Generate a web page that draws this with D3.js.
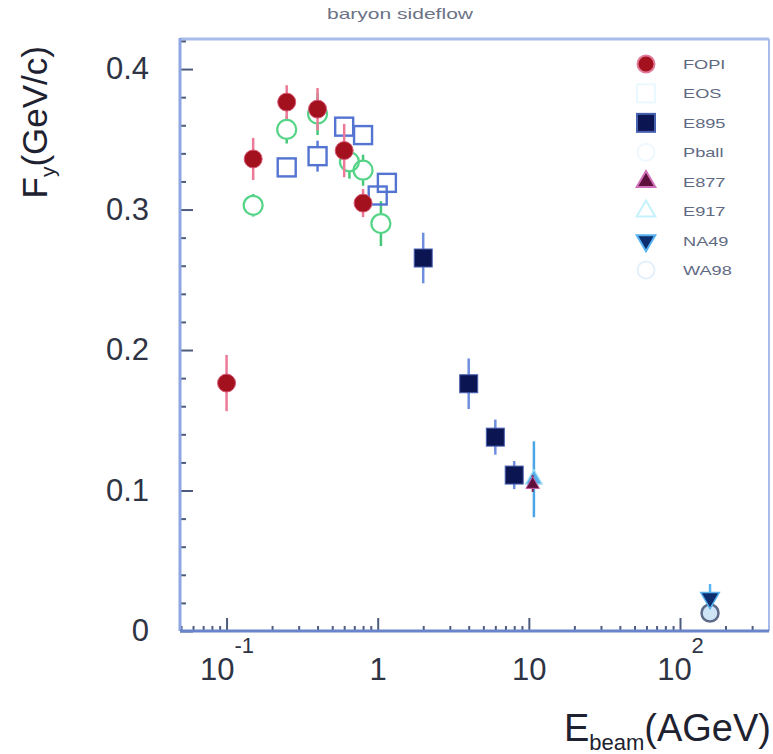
<!DOCTYPE html>
<html>
<head>
<meta charset="utf-8">
<script src="https://cdn.jsdelivr.net/npm/d3@7/dist/d3.min.js"></script>
<style>
  html, body { margin: 0; padding: 0; background: #fff; }
  svg { display: block; font-family: "Liberation Sans", Arial, Helvetica, sans-serif; }
</style>
</head>
<body>
<svg id="chart" width="773" height="754"></svg>
<script>
// ---- data: directed sideflow F_y versus beam energy ----
const fopiE   = [0.1, 0.15, 0.25, 0.4, 0.6, 0.8];
const fopiF   = [0.1765, 0.336, 0.3765, 0.3715, 0.342, 0.3046];
const fopiErr = [0.020, 0.015, 0.012, 0.015, 0.019, 0.010];

const eosE    = [0.25, 0.4, 0.6, 0.8, 1.0, 1.15];
const eosF    = [0.330, 0.338, 0.359, 0.353, 0.310, 0.319];
const eosErr  = [0.006, 0.011, 0.006, 0.006, 0.006, 0.006];

const pballE   = [0.15, 0.25, 0.4, 0.65, 0.8, 1.05];
const pballF   = [0.303, 0.357, 0.368, 0.334, 0.328, 0.290];
const pballErr = [0.008, 0.010, 0.015, 0.012, 0.011, 0.016];

const e895E   = [2, 4, 6, 8];
const e895F   = [0.2655, 0.176, 0.138, 0.111];
const e895Err = [0.018, 0.018, 0.0125, 0.010];

const e877E = [10.6], e877F = [0.105], e877Err = [0.006];
const e917E = [10.8], e917F = [0.108], e917Err = [0.027];
const na49E = [158],  na49F = [0.0235], na49Err = [0.010];
const wa98E = [158],  wa98F = [0.0128], wa98Err = [0.004];

const legendLabels = ["FOPI", "EOS", "E895", "Pball", "E877", "E917", "NA49", "WA98"];
const xTickValues = [0.1, 1, 10, 100];
const yTickValues = [0, 0.1, 0.2, 0.3, 0.4];

// ---- layout ----
const svg = d3.select("#chart");
const pLeft = 180, pRight = 769, pTop = 39, pBottom = 631;

const x = d3.scaleLog().domain([0.0492, 388]).range([pLeft, pRight]);
const y = d3.scaleLinear().domain([0, 0.4214]).range([pBottom, pTop]);

// title
svg.append("text")
  .attr("x", 400).attr("y", 19)
  .attr("text-anchor", "middle")
  .attr("font-size", 15)
  .attr("textLength", 146).attr("lengthAdjust", "spacingAndGlyphs")
  .attr("fill", "#6c7386")
  .text("baryon sideflow");

// frame (top and right edges)
svg.append("line").attr("x1", pLeft).attr("x2", pRight).attr("y1", pTop).attr("y2", pTop)
  .attr("stroke", "#a9bbea").attr("stroke-width", 3);
svg.append("line").attr("x1", pRight).attr("x2", pRight).attr("y1", pTop).attr("y2", pBottom)
  .attr("stroke", "#a9bbea").attr("stroke-width", 2);

// minor tick values
const yMinor = d3.range(0, 0.4201, 0.02).filter(v => Math.abs(v * 10 - Math.round(v * 10)) > 1e-6);
const xMinor = [];
[0.01, 0.1, 1, 10, 100].forEach(d => { for (let k = 2; k <= 9; k++) { const v = d * k; if (v > 0.0492 && v < 388) xMinor.push(v); } });

function tickStyle(g, color) {
  g.select(".domain").remove();
  g.selectAll(".tick line").attr("stroke", color).attr("stroke-width", 2);
}

// y axis: ticks point into the plot
svg.append("g").attr("transform", `translate(${pLeft},0)`)
  .call(d3.axisRight(y).tickValues(yMinor).tickSize(6).tickFormat(""))
  .call(g => tickStyle(g, "#4d5b7c"));
svg.append("g").attr("transform", `translate(${pLeft},0)`)
  .call(d3.axisRight(y).tickValues(yTickValues).tickSize(13).tickFormat(""))
  .call(g => tickStyle(g, "#4d5b7c"));
svg.append("g").attr("transform", `translate(${pLeft},0)`)
  .call(d3.axisLeft(y).tickValues(yTickValues).tickSize(0).tickPadding(31)
    .tickFormat(d => d === 0 ? "0" : d3.format(".1f")(d)))
  .call(g => {
    g.select(".domain").remove();
    g.selectAll("text").attr("font-size", 31).attr("fill", "#2e3444")
      .attr("font-family", "'Liberation Sans', Arial, sans-serif");
  });

// x axis: ticks point up into the plot
svg.append("g").attr("transform", `translate(0,${pBottom})`)
  .call(d3.axisTop(x).tickValues(xMinor).tickSize(5).tickFormat(""))
  .call(g => tickStyle(g, "#4d5b7c"));
svg.append("g").attr("transform", `translate(0,${pBottom})`)
  .call(d3.axisTop(x).tickValues(xTickValues).tickSize(13).tickFormat(""))
  .call(g => tickStyle(g, "#4d5b7c"));
svg.append("g").attr("transform", `translate(0,${pBottom})`)
  .call(d3.axisBottom(x).tickValues(xTickValues).tickSize(0).tickPadding(20).tickFormat(""))
  .call(g => {
    g.select(".domain").remove();
    g.selectAll(".tick text").each(function(d) {
      const t = d3.select(this)
        .attr("font-size", 31).attr("fill", "#2e3444").attr("dy", null).attr("y", 49)
        .attr("font-family", "'Liberation Sans', Arial, sans-serif");
      const e = Math.round(Math.log10(d));
      if (e === 0) t.text("1");
      else if (e === 1) t.text("10");
      else {
        t.append("tspan").text("10");
        t.append("tspan").attr("font-size", 22).attr("dy", -27).text(String(e));
      }
    });
  });

// axis lines
svg.append("line").attr("x1", pLeft).attr("x2", pLeft).attr("y1", pTop - 1).attr("y2", pBottom)
  .attr("stroke", "#8ea6e2").attr("stroke-width", 3);
svg.append("line").attr("x1", pLeft).attr("x2", pRight).attr("y1", pBottom).attr("y2", pBottom)
  .attr("stroke", "#6a84cc").attr("stroke-width", 3);

// axis titles
const xt = svg.append("text")
  .attr("x", 771).attr("y", 741).attr("text-anchor", "end")
  .attr("font-size", 38).attr("fill", "#1e2230");
xt.append("tspan").text("E");
xt.append("tspan").attr("font-size", 22).attr("dy", 9).text("beam");
xt.append("tspan").attr("dy", -9).text("(AGeV)");

const yt = svg.append("text")
  .attr("transform", "translate(47,46) rotate(-90)")
  .attr("text-anchor", "end")
  .attr("font-size", 35).attr("fill", "#1e2230");
yt.append("tspan").text("F");
yt.append("tspan").attr("font-size", 21).attr("dy", 8).text("y");
yt.append("tspan").attr("dy", -8).text("(GeV/c)");

// ---- marks ----
const plot = svg.append("g");

function series(E, F, Err) { return E.map((e, i) => ({ e, f: F[i], err: Err[i] })); }

// vertical error bars; `gap` keeps the bar out of the marker body (for open markers)
function errorBars(data, color, width, gap = 0) {
  const segs = [];
  data.forEach(d => {
    const cx = x(d.e), cy = y(d.f);
    const yTop = y(d.f + d.err), yBot = y(d.f - d.err);
    if (gap > 0) {
      if (yTop < cy - gap) segs.push({ cx, y1: yTop, y2: cy - gap });
      if (yBot > cy + gap) segs.push({ cx, y1: cy + gap, y2: yBot });
    } else {
      segs.push({ cx, y1: yTop, y2: yBot });
    }
  });
  plot.append("g").selectAll("line").data(segs).join("line")
    .attr("x1", s => s.cx).attr("x2", s => s.cx)
    .attr("y1", s => s.y1).attr("y2", s => s.y2)
    .attr("stroke", color).attr("stroke-width", width);
}

const triUp = d3.symbol().type(d3.symbolTriangle).size(150);

const fopi  = series(fopiE, fopiF, fopiErr);
const eos   = series(eosE, eosF, eosErr);
const pball = series(pballE, pballF, pballErr);
const e895  = series(e895E, e895F, e895Err);
const e877  = series(e877E, e877F, e877Err);
const e917  = series(e917E, e917F, e917Err);
const na49  = series(na49E, na49F, na49Err);
const wa98  = series(wa98E, wa98F, wa98Err);

// Plastic Ball: open green circles
errorBars(pball, "#46c878", 2.5, 10);
plot.append("g").selectAll("circle").data(pball).join("circle")
  .attr("cx", d => x(d.e)).attr("cy", d => y(d.f)).attr("r", 9.5)
  .attr("fill", "none").attr("stroke", "#55d487").attr("stroke-width", 2.2);

// EOS: open blue squares
errorBars(eos, "#5c7ed8", 2.5, 9);
plot.append("g").selectAll("rect").data(eos).join("rect")
  .attr("x", d => x(d.e) - 9).attr("y", d => y(d.f) - 9).attr("width", 18).attr("height", 18)
  .attr("fill", "none").attr("stroke", "#5474d2").attr("stroke-width", 2.4);

// FOPI: filled red circles
errorBars(fopi, "#ec7a98", 2.5);
plot.append("g").selectAll("circle").data(fopi).join("circle")
  .attr("cx", d => x(d.e)).attr("cy", d => y(d.f)).attr("r", 9)
  .attr("fill", "#a3111f").attr("stroke", "#d85a76").attr("stroke-width", 1);

// E895: filled navy squares
errorBars(e895, "#6f8ede", 2.5);
plot.append("g").selectAll("rect").data(e895).join("rect")
  .attr("x", d => x(d.e) - 9).attr("y", d => y(d.f) - 9).attr("width", 18).attr("height", 18)
  .attr("fill", "#0b1552").attr("stroke", "#4860b0").attr("stroke-width", 1);

// E917: light triangle, E877: filled purple triangle
errorBars(e917, "#4aa6e6", 2.5);
plot.append("g").selectAll("path").data(e917).join("path")
  .attr("transform", d => `translate(${x(d.e)},${y(d.f)})`)
  .attr("d", d3.symbol().type(d3.symbolTriangle).size(120))
  .attr("fill", "#58aee8").attr("stroke", "#9fe0f8").attr("stroke-width", 1.2);
errorBars(e877, "#7a2858", 2);
plot.append("g").selectAll("path").data(e877).join("path")
  .attr("transform", d => `translate(${x(d.e)},${y(d.f) + 1})`)
  .attr("d", d3.symbol().type(d3.symbolTriangle).size(80))
  .attr("fill", "#5e0f3c").attr("stroke", "#c860a8").attr("stroke-width", 1);

// WA98: open circle, NA49: filled down triangle
errorBars(na49, "#5ab4f0", 2.5);
plot.append("g").selectAll("circle").data(wa98).join("circle")
  .attr("cx", d => x(d.e)).attr("cy", d => y(d.f)).attr("r", 8.5)
  .attr("fill", "#cfe4f4").attr("stroke", "#5d6a88").attr("stroke-width", 2.5);
plot.append("g").selectAll("path").data(na49).join("path")
  .attr("transform", d => `translate(${x(d.e)},${y(d.f)}) rotate(180)`).attr("d", triUp)
  .attr("fill", "#0c2d6e").attr("stroke", "#58b2f0").attr("stroke-width", 1.5);

// ---- legend ----
const legendStyles = [
  { shape: "circle",   fill: "#a3111f", stroke: "#e07a98" },
  { shape: "square",   fill: "none",    stroke: "#eaf8ff" },
  { shape: "square",   fill: "#0b1552", stroke: "#4860b0" },
  { shape: "circle",   fill: "none",    stroke: "#eef8ff" },
  { shape: "triangle", fill: "#5e0f3c", stroke: "#d070b8" },
  { shape: "triangle", fill: "none",    stroke: "#c6f2fc" },
  { shape: "down",     fill: "#0c2d6e", stroke: "#58b2f0" },
  { shape: "circle",   fill: "none",    stroke: "#e4f0fc" }
];
const legY = d3.scalePoint().domain(legendLabels).range([64, 270]);
const leg = svg.append("g");
legendLabels.forEach((lab, i) => {
  const st = legendStyles[i];
  const cy = legY(lab), cx = 646;
  let m;
  if (st.shape === "circle") m = leg.append("circle").attr("cx", cx).attr("cy", cy).attr("r", 8.5);
  else if (st.shape === "square") m = leg.append("rect").attr("x", cx - 9).attr("y", cy - 9).attr("width", 18).attr("height", 18);
  else m = leg.append("path").attr("d", triUp)
    .attr("transform", `translate(${cx},${cy})` + (st.shape === "down" ? " rotate(180)" : ""));
  m.attr("fill", st.fill).attr("stroke", st.stroke).attr("stroke-width", 2);
  leg.append("text")
    .attr("transform", `translate(683,${cy + 5}) scale(1.4,1)`)
    .attr("font-size", 13).attr("fill", "#5f6a82")
    .text(lab);
});
</script>
</body>
</html>
